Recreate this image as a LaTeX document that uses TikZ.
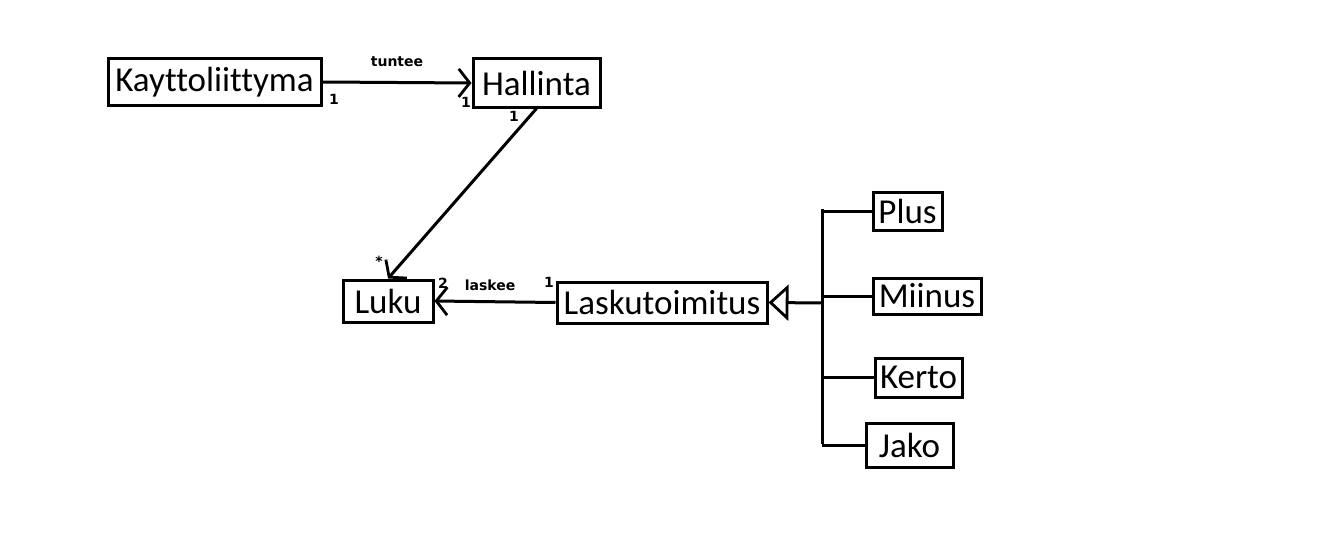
\documentclass[tikz,border=0pt]{standalone}
\usepackage{fontspec}
\setmainfont{Carlito}[Ligatures={NoCommon}]
\newfontfamily\lblfont{DejaVu Sans}
\usetikzlibrary{arrows.meta}
\begin{document}
\begin{tikzpicture}[x=1pt,y=-1pt,
  cls/.style={draw,line width=3pt,inner sep=0pt,font=\fontsize{35}{40}\selectfont},
  lbl/.style={font=\lblfont\bfseries\fontsize{14}{16}\selectfont,inner sep=0pt},
  ln/.style={line width=3pt},
  assoc/.style={ln,-{Straight Barb[length=11pt,width=28pt,line width=2.8pt]}},
  gen/.style={ln,-{Triangle[open,length=20pt,width=36pt,line width=2.8pt]}}]
\fill[white] (0,0) rectangle (1323,551);
\useasboundingbox (0,0) rectangle (1323,551);
\node[cls,minimum width=213pt,minimum height=46pt] (ky) at (214.5,82) {Kayttoliittyma};
\node[cls,minimum width=127pt,minimum height=48pt] (ha) at (536.5,83) {Hallinta};
\node[cls,minimum width=90pt,minimum height=42pt] (luku) at (388,301) {Luku};
\node[cls,minimum width=210pt,minimum height=41pt] (lask) at (662,302.5) {Laskutoimitus};
\node[cls,minimum width=69pt,minimum height=38pt] (plus) at (907.5,211) {Plus};
\node[cls,minimum width=108pt,minimum height=36pt] (miinus) at (927,296) {Miinus};
\node[cls,minimum width=87pt,minimum height=39pt] (kerto) at (918.5,377.5) {Kerto};
\node[cls,minimum width=87pt,minimum height=44pt] (jako) at (909.5,445) {Jako};
\coordinate (vt) at (822,209);
\coordinate (vb) at (822,444);
\coordinate (vm) at (822,303);
\draw[assoc] (ky.east) -- (ha.west);
\draw[assoc] (ha.south) -- (luku.north);
\draw[assoc] (lask.west) -- (luku.east);
\draw[gen] (vm) -- (lask.east);
\draw[ln] (vt) -- (vb);
\draw[ln] (plus.west -| vt) -- (plus.west);
\draw[ln] (miinus.west -| vt) -- (miinus.west);
\draw[ln] (kerto.west -| vt) -- (kerto.west);
\draw[ln] (jako.west -| vt) -- (jako.west);
\node[lbl] (l1) at (397,62) {tuntee};
\node[lbl] (l2) at (334,99) {1};
\node[lbl] (l3) at (466,102) {1};
\node[lbl] (l4) at (514,116) {1};
\node[lbl] (l5) at (379,261) {*};
\node[lbl] (l6) at (443,283) {2};
\node[lbl] (l7) at (490,285) {laskee};
\node[lbl] (l8) at (549,282) {1};
\end{tikzpicture}
\end{document}
